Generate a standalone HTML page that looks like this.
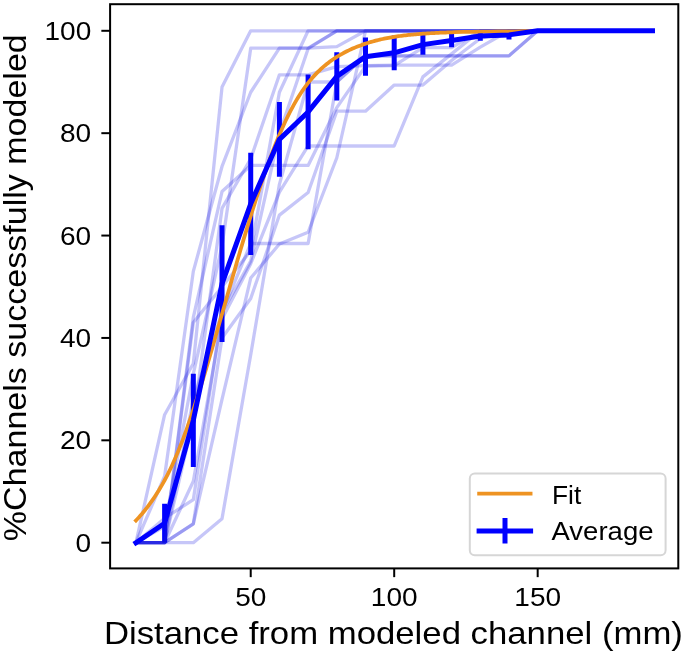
<!DOCTYPE html>
<html><head><meta charset="utf-8"><style>
html,body{margin:0;padding:0;background:#fff;}
body{width:685px;height:652px;overflow:hidden;font-family:"Liberation Sans",sans-serif;}
svg{display:block;}
svg{will-change:transform;}
</style></head><body>
<svg width="685" height="652" viewBox="0 0 685 652">
<rect width="685" height="652" fill="#ffffff"/>
<defs><clipPath id="ax"><rect x="110.1" y="4.2" width="568.2" height="564.2"/></clipPath></defs>
<g clip-path="url(#ax)">
<line x1="164.62" y1="542.7" x2="164.62" y2="503.8" stroke="#0000ff" stroke-width="5"/>
<line x1="193.32" y1="466.94" x2="193.32" y2="373.77" stroke="#0000ff" stroke-width="5"/>
<line x1="222.02" y1="342.04" x2="222.02" y2="225.32" stroke="#0000ff" stroke-width="5"/>
<line x1="250.72" y1="255.01" x2="250.72" y2="152.63" stroke="#0000ff" stroke-width="5"/>
<line x1="279.41" y1="176.69" x2="279.41" y2="101.95" stroke="#0000ff" stroke-width="5"/>
<line x1="308.11" y1="149.3" x2="308.11" y2="74.57" stroke="#0000ff" stroke-width="5"/>
<line x1="336.81" y1="100.42" x2="336.81" y2="52.3" stroke="#0000ff" stroke-width="5"/>
<line x1="365.5" y1="75.85" x2="365.5" y2="37.45" stroke="#0000ff" stroke-width="5"/>
<line x1="394.2" y1="70.22" x2="394.2" y2="35.41" stroke="#0000ff" stroke-width="5"/>
<line x1="422.9" y1="54.86" x2="422.9" y2="34.38" stroke="#0000ff" stroke-width="5"/>
<line x1="451.59" y1="47.18" x2="451.59" y2="33.87" stroke="#0000ff" stroke-width="5"/>
<line x1="480.29" y1="40.78" x2="480.29" y2="31.06" stroke="#0000ff" stroke-width="5"/>
<line x1="508.99" y1="39.5" x2="508.99" y2="30.29" stroke="#0000ff" stroke-width="5"/>
<g fill="none" stroke="rgb(16,16,224)" stroke-opacity="0.24" stroke-width="3.3" stroke-linejoin="round" stroke-linecap="square">
<polyline points="135.93,542.7 164.62,414.73 193.32,363.54 222.02,87.11 250.72,30.8 279.41,30.8 308.11,30.8 336.81,30.8 365.5,30.8 394.2,30.8 422.9,30.8 451.59,30.8 480.29,30.8 508.99,30.8 537.68,30.8 652.47,30.8"/>
<polyline points="135.93,542.7 164.62,476.15 193.32,271.39 222.02,166.45 250.72,92.23 279.41,48.2 308.11,48.2 336.81,46.67 365.5,30.8 394.2,30.8 422.9,30.8 451.59,30.8 480.29,30.8 508.99,30.8 537.68,30.8 652.47,30.8"/>
<polyline points="135.93,542.7 164.62,526.32 193.32,373.77 222.02,245.8 250.72,48.2 279.41,48.2 308.11,48.2 336.81,30.8 365.5,30.8 394.2,30.8 422.9,30.8 451.59,30.8 480.29,30.8 508.99,30.8 537.68,30.8 652.47,30.8"/>
<polyline points="135.93,542.7 164.62,542.7 193.32,419.84 222.02,208.43 250.72,158.78 279.41,74.82 308.11,74.82 336.81,66.63 365.5,65.61 394.2,65.1 422.9,65.1 451.59,65.1 480.29,47.18 508.99,30.8 537.68,30.8 652.47,30.8"/>
<polyline points="135.93,542.7 164.62,542.7 193.32,317.46 222.02,191.54 250.72,165.43 279.41,165.43 308.11,165.43 336.81,107.59 365.5,66.12 394.2,65.61 422.9,47.69 451.59,47.69 480.29,30.8 508.99,30.8 537.68,30.8 652.47,30.8"/>
<polyline points="135.93,542.7 164.62,542.7 193.32,542.7 222.02,518.64 250.72,354.83 279.41,184.37 308.11,81.99 336.81,81.99 365.5,55.88 394.2,55.88 422.9,55.88 451.59,55.88 480.29,55.88 508.99,55.88 537.68,30.8 652.47,30.8"/>
<polyline points="135.93,542.7 164.62,518.13 193.32,499.7 222.02,312.35 250.72,243.49 279.41,243.49 308.11,243.49 336.81,81.99 365.5,55.88 394.2,55.88 422.9,55.88 451.59,55.88 480.29,55.88 508.99,55.88 537.68,30.8 652.47,30.8"/>
<polyline points="135.93,542.7 164.62,542.7 193.32,523.76 222.02,399.37 250.72,278.05 279.41,244.01 308.11,232.23 336.81,157.75 365.5,30.8 394.2,30.8 422.9,30.8 451.59,30.8 480.29,30.8 508.99,30.8 537.68,30.8 652.47,30.8"/>
<polyline points="135.93,542.7 164.62,542.7 193.32,523.76 222.02,337.94 250.72,298.52 279.41,215.08 308.11,192.56 336.81,111.17 365.5,111.17 394.2,85.06 422.9,85.06 451.59,60.49 480.29,38.48 508.99,30.8 537.68,30.8 652.47,30.8"/>
<polyline points="135.93,542.7 164.62,542.7 193.32,322.58 222.02,286.75 250.72,250.92 279.41,92.23 308.11,30.8 336.81,30.8 365.5,30.8 394.2,30.8 422.9,30.8 451.59,30.8 480.29,30.8 508.99,30.8 537.68,30.8 652.47,30.8"/>
<polyline points="135.93,542.7 164.62,542.7 193.32,399.37 222.02,312.35 250.72,261.16 279.41,133.18 308.11,48.72 336.81,30.8 365.5,30.8 394.2,30.8 422.9,30.8 451.59,30.8 480.29,30.8 508.99,30.8 537.68,30.8 652.47,30.8"/>
<polyline points="135.93,542.7 164.62,542.7 193.32,481.27 222.02,319 250.72,263.71 279.41,192.05 308.11,145.98 336.81,145.98 365.5,145.98 394.2,145.98 422.9,76.87 451.59,53.84 480.29,30.8 508.99,30.8 537.68,30.8 652.47,30.8"/>
</g>
<polyline points="135.93,520.51 137.36,519.02 138.8,517.47 140.23,515.87 141.67,514.22 143.1,512.52 144.54,510.77 145.97,508.96 147.41,507.1 148.84,505.19 150.28,503.22 151.71,501.2 153.15,499.12 154.58,496.99 156.02,494.8 157.45,492.54 158.88,490.23 160.32,487.84 161.75,485.39 163.19,482.87 164.62,480.27 166.06,477.58 167.49,474.81 168.93,471.95 170.36,469 171.8,465.96 173.23,462.82 174.67,459.6 176.1,456.28 177.54,452.87 178.97,449.37 180.41,445.79 181.84,442.11 183.28,438.34 184.71,434.5 186.15,430.56 187.58,426.55 189.02,422.46 190.45,418.29 191.89,414.04 193.32,409.73 194.76,405.35 196.19,400.91 197.63,396.41 199.06,391.85 200.5,387.25 201.93,382.59 203.37,377.89 204.8,373.15 206.23,368.37 207.67,363.55 209.1,358.7 210.54,353.82 211.97,348.91 213.41,343.98 214.84,339.02 216.28,334.05 217.71,329.05 219.15,324.05 220.58,319.04 222.02,314.01 223.45,308.99 224.89,303.96 226.32,298.93 227.76,293.91 229.19,288.89 230.63,283.89 232.06,278.89 233.5,273.91 234.93,268.95 236.37,264 237.8,259.08 239.24,254.18 240.67,249.31 242.11,244.46 243.54,239.65 244.98,234.87 246.41,230.13 247.85,225.42 249.28,220.75 250.72,216.12 252.15,211.53 253.58,206.99 255.02,202.49 256.45,198.05 257.89,193.65 259.32,189.3 260.76,185 262.19,180.76 263.63,176.57 265.06,172.44 266.5,168.37 267.93,164.36 269.37,160.41 270.8,156.52 272.24,152.71 273.67,148.97 275.11,145.3 276.54,141.71 277.98,138.19 279.41,134.76 280.85,131.4 282.28,128.13 283.72,124.93 285.15,121.82 286.59,118.79 288.02,115.85 289.46,112.99 290.89,110.21 292.33,107.51 293.76,104.89 295.2,102.35 296.63,99.9 298.07,97.52 299.5,95.22 300.93,92.99 302.37,90.85 303.8,88.77 305.24,86.77 306.67,84.83 308.11,82.97 309.54,81.17 310.98,79.44 312.41,77.78 313.85,76.17 315.28,74.62 316.72,73.12 318.15,71.68 319.59,70.29 321.02,68.95 322.46,67.65 323.89,66.4 325.33,65.19 326.76,64.03 328.2,62.9 329.63,61.82 331.07,60.77 332.5,59.75 333.94,58.77 335.37,57.82 336.81,56.9 338.24,56.02 339.68,55.16 341.11,54.33 342.55,53.53 343.98,52.75 345.42,52 346.85,51.27 348.28,50.57 349.72,49.88 351.15,49.22 352.59,48.58 354.02,47.96 355.46,47.36 356.89,46.78 358.33,46.22 359.76,45.67 361.2,45.14 362.63,44.63 364.07,44.13 365.5,43.65 366.94,43.18 368.37,42.73 369.81,42.29 371.24,41.87 372.68,41.46 374.11,41.07 375.55,40.68 376.98,40.32 378.42,39.96 379.85,39.62 381.29,39.29 382.72,38.97 384.16,38.67 385.59,38.37 387.03,38.09 388.46,37.82 389.9,37.55 391.33,37.3 392.77,37.06 394.2,36.83 395.63,36.61 397.07,36.39 398.5,36.19 399.94,35.99 401.37,35.8 402.81,35.62 404.24,35.44 405.68,35.28 407.11,35.12 408.55,34.96 409.98,34.81 411.42,34.67 412.85,34.53 414.29,34.4 415.72,34.27 417.16,34.15 418.59,34.04 420.03,33.92 421.46,33.82 422.9,33.71 424.33,33.61 425.77,33.52 427.2,33.43 428.64,33.34 430.07,33.25 431.51,33.17 432.94,33.09 434.38,33.02 435.81,32.95 437.25,32.88 438.68,32.81 440.12,32.74 441.55,32.68 442.98,32.62 444.42,32.56 445.85,32.51 447.29,32.46 448.72,32.41 450.16,32.36 451.59,32.31 454.46,32.22 463.07,31.99 471.68,31.8 480.29,31.65 488.9,31.52 497.51,31.41 506.12,31.33 514.73,31.25 523.34,31.18 531.95,31.13 540.55,31.08 549.16,31.04 557.77,31 566.38,30.97 574.99,30.95 583.6,30.93 592.21,30.91 600.82,30.89 609.43,30.88 618.04,30.87 626.65,30.87 635.25,30.86 643.86,30.85 652.47,30.85" fill="none" stroke="#ee9322" stroke-width="3.75" stroke-linejoin="round" stroke-linecap="square"/>
<polyline points="135.93,542.7 164.62,523.25 193.32,420.36 222.02,283.68 250.72,203.82 279.41,139.32 308.11,111.94 336.81,76.36 365.5,56.65 394.2,52.81 422.9,44.62 451.59,40.53 480.29,35.92 508.99,34.9 537.68,30.8 566.38,30.8 595.08,30.8 623.78,30.8 652.47,30.8" fill="none" stroke="#0000ff" stroke-width="5" stroke-linejoin="round" stroke-linecap="square"/>
</g>
<rect x="110.1" y="4.2" width="568.2" height="564.2" fill="none" stroke="#000" stroke-width="2" stroke-linejoin="miter"/>
<line x1="101.35" y1="542.7" x2="110.1" y2="542.7" stroke="#000" stroke-width="2"/>
<line x1="101.35" y1="440.32" x2="110.1" y2="440.32" stroke="#000" stroke-width="2"/>
<line x1="101.35" y1="337.94" x2="110.1" y2="337.94" stroke="#000" stroke-width="2"/>
<line x1="101.35" y1="235.56" x2="110.1" y2="235.56" stroke="#000" stroke-width="2"/>
<line x1="101.35" y1="133.18" x2="110.1" y2="133.18" stroke="#000" stroke-width="2"/>
<line x1="101.35" y1="30.8" x2="110.1" y2="30.8" stroke="#000" stroke-width="2"/>
<line x1="250.72" y1="568.4" x2="250.72" y2="577.15" stroke="#000" stroke-width="2"/>
<line x1="394.2" y1="568.4" x2="394.2" y2="577.15" stroke="#000" stroke-width="2"/>
<line x1="537.68" y1="568.4" x2="537.68" y2="577.15" stroke="#000" stroke-width="2"/>
<text transform="translate(91.2,551.8) scale(1.065,1)" font-family="'Liberation Sans', sans-serif" font-size="26.3" text-anchor="end" fill="#000">0</text>
<text transform="translate(91.2,449.42) scale(1.065,1)" font-family="'Liberation Sans', sans-serif" font-size="26.3" text-anchor="end" fill="#000">20</text>
<text transform="translate(91.2,347.04) scale(1.065,1)" font-family="'Liberation Sans', sans-serif" font-size="26.3" text-anchor="end" fill="#000">40</text>
<text transform="translate(91.2,244.66) scale(1.065,1)" font-family="'Liberation Sans', sans-serif" font-size="26.3" text-anchor="end" fill="#000">60</text>
<text transform="translate(91.2,142.28) scale(1.065,1)" font-family="'Liberation Sans', sans-serif" font-size="26.3" text-anchor="end" fill="#000">80</text>
<text transform="translate(91.2,39.9) scale(1.065,1)" font-family="'Liberation Sans', sans-serif" font-size="26.3" text-anchor="end" fill="#000">100</text>
<text transform="translate(250.72,605.7) scale(1.065,1)" font-family="'Liberation Sans', sans-serif" font-size="26.3" text-anchor="middle" fill="#000">50</text>
<text transform="translate(394.2,605.7) scale(1.065,1)" font-family="'Liberation Sans', sans-serif" font-size="26.3" text-anchor="middle" fill="#000">100</text>
<text transform="translate(537.68,605.7) scale(1.065,1)" font-family="'Liberation Sans', sans-serif" font-size="26.3" text-anchor="middle" fill="#000">150</text>
<text x="393.4" y="644.4" font-family="'Liberation Sans', sans-serif" font-size="31.5" text-anchor="middle" fill="#000" textLength="579" lengthAdjust="spacingAndGlyphs">Distance from modeled channel (mm)</text>
<text transform="translate(26.4,287.7) rotate(-90)" font-family="'Liberation Sans', sans-serif" font-size="31.5" text-anchor="middle" fill="#000" textLength="507" lengthAdjust="spacingAndGlyphs">%Channels successfully modeled</text>
<rect x="469.8" y="473.4" width="195.8" height="81.8" rx="5" ry="5" fill="#ffffff" fill-opacity="0.8" stroke="#d6d6d6" stroke-width="2"/>
<line x1="479.1" y1="493.7" x2="530.6" y2="493.7" stroke="#ee9322" stroke-width="3.75" stroke-linecap="square"/>
<line x1="479.1" y1="531" x2="530.6" y2="531" stroke="#0000ff" stroke-width="5" stroke-linecap="square"/>
<line x1="505" y1="518" x2="505" y2="543.5" stroke="#0000ff" stroke-width="5"/>
<text x="552" y="503.5" font-family="'Liberation Sans', sans-serif" font-size="26.3" fill="#000">Fit</text>
<text x="551.5" y="539.5" font-family="'Liberation Sans', sans-serif" font-size="26.3" fill="#000" textLength="102" lengthAdjust="spacingAndGlyphs">Average</text>
</svg>
</body></html>
